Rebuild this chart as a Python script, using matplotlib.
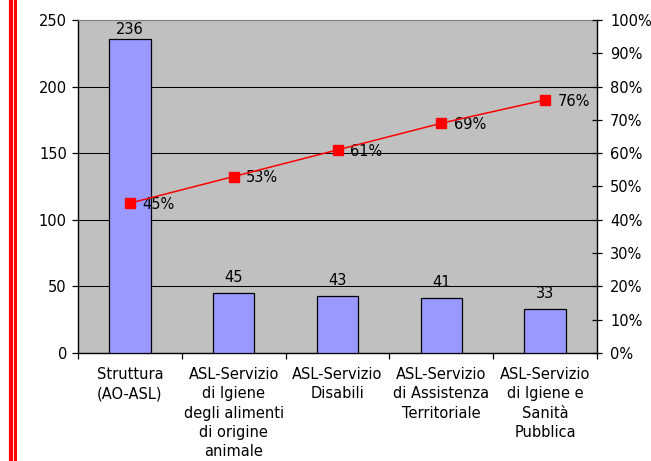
import numpy as np
import matplotlib.pyplot as plt
from matplotlib.lines import Line2D

categories = ['Struttura\n(AO-ASL)',
              'ASL-Servizio\ndi Igiene\ndegli alimenti\ndi origine\nanimale',
              'ASL-Servizio\nDisabili',
              'ASL-Servizio\ndi Assistenza\nTerritoriale',
              'ASL-Servizio\ndi Igiene e\nSanità\nPubblica']
counts = [236, 45, 43, 41, 33]
cum_pct = [0.45, 0.53, 0.61, 0.69, 0.76]
pct_labels = ['45%', '53%', '61%', '69%', '76%']

plt.rcParams['font.family'] = ['DejaVu Sans']
fs = 10.5

fig = plt.figure(figsize=(6.51, 4.61), dpi=100)
ax = fig.add_axes([78 / 651, 1 - 353 / 461, (597 - 78) / 651, (353 - 20) / 461])
ax.set_facecolor('#C0C0C0')

x = np.arange(len(counts))
ax.bar(x, counts, width=0.4, color='#9999FF', edgecolor='black', linewidth=0.9, zorder=3)
for xi, c in zip(x, counts):
    # labels sit a little above the bars, pushed down when they would leave the plot
    ax.text(xi, min(c + 6, 237), str(c), ha='center', va='bottom', fontsize=fs, zorder=5)

ax.set_xlim(-0.5, len(counts) - 0.5)
ax.set_ylim(0, 250)
ax.set_yticks([0, 50, 100, 150, 200, 250])
ax.yaxis.grid(True, color='black', linewidth=0.75, zorder=0)
ax.set_axisbelow(True)
ax.set_xticks(x)
ax.set_xticklabels(categories, fontsize=fs, linespacing=1.36)
ax.tick_params(axis='x', which='major', length=0, pad=10)
ax.set_xticks(np.arange(len(counts) + 1) - 0.5, minor=True)
ax.tick_params(axis='x', which='minor', length=4, width=0.9)
ax.tick_params(axis='y', labelsize=fs, length=4, width=0.9, pad=4)
ax.spines['right'].set_visible(False)
ax.spines['left'].set_linewidth(1)
ax.spines['bottom'].set_linewidth(1)
ax.spines['top'].set_color('#808080')
ax.spines['top'].set_linewidth(0.8)

ax2 = ax.twinx()
ax2.plot(x, cum_pct, color='red', linewidth=1.1, marker='s', markersize=6.5, zorder=4)
for xi, p, lab in zip(x, cum_pct, pct_labels):
    ax2.text(xi + 0.12, p - 0.004, lab, ha='left', va='center', fontsize=fs)
ax2.set_ylim(0, 1)
ax2.set_yticks(np.linspace(0, 1, 11))
ax2.set_yticklabels([f'{int(v)}%' for v in np.linspace(0, 100, 11)])
ax2.tick_params(axis='y', labelsize=fs, direction='inout', length=7, width=0.9, pad=6)
for s in ['top', 'left', 'bottom']:
    ax2.spines[s].set_visible(False)
ax2.spines['right'].set_linewidth(1)

# red decorative lines on the left border
fig.add_artist(Line2D([10.5 / 651, 10.5 / 651], [0, 1], color='red', linewidth=3, transform=fig.transFigure))
fig.add_artist(Line2D([14.5 / 651, 14.5 / 651], [0, 1], color='red', linewidth=2.2, transform=fig.transFigure))

fig.savefig('out.png', dpi=100)
